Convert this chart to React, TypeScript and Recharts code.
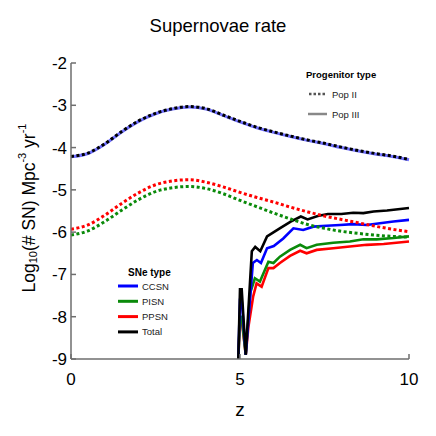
import React from 'react';
import { LineChart, Line, XAxis, YAxis } from 'recharts';

// Pop II (dotted) series on a common redshift grid
const zPop2 = [0, 0.5, 1, 1.5, 2, 2.5, 3, 3.5, 4, 4.5, 5, 5.5, 6, 6.5, 7, 7.5, 8, 8.5, 9, 9.5, 10];
const pop2Total = [-4.21, -4.13, -3.91, -3.62, -3.37, -3.19, -3.08, -3.03, -3.08, -3.23, -3.38, -3.52, -3.63, -3.73, -3.82, -3.9, -3.99, -4.07, -4.14, -4.2, -4.28];
const pop2CCSN = [-4.22, -4.14, -3.92, -3.63, -3.38, -3.2, -3.09, -3.04, -3.09, -3.24, -3.39, -3.53, -3.64, -3.74, -3.83, -3.91, -4.0, -4.08, -4.15, -4.21, -4.29];
const pop2PPSN = [-5.93, -5.83, -5.6, -5.32, -5.07, -4.88, -4.79, -4.76, -4.82, -4.93, -5.06, -5.18, -5.29, -5.41, -5.52, -5.62, -5.7, -5.78, -5.86, -5.93, -5.99];
const pop2PISN = [-6.07, -5.97, -5.75, -5.48, -5.23, -5.04, -4.95, -4.92, -4.97, -5.09, -5.25, -5.4, -5.55, -5.69, -5.82, -5.91, -5.98, -6.03, -6.07, -6.1, -6.12];

// Pop III (solid) series
const zTotal3 = [4.95, 5.0, 5.05, 5.17, 5.35, 5.45, 5.6, 5.8, 6.0, 6.2, 6.5, 6.8, 7.0, 7.3, 7.6, 8.0, 8.35, 8.65, 8.95, 9.35, 10];
const total3 = [-9.0, -7.35, -7.35, -8.9, -6.45, -6.35, -6.45, -6.1, -6.0, -5.9, -5.75, -5.63, -5.7, -5.62, -5.57, -5.57, -5.54, -5.55, -5.51, -5.49, -5.43];
const zCCSN3 = [4.95, 5.0, 5.05, 5.17, 5.38, 5.5, 5.62, 5.8, 6.0, 6.28, 6.58, 6.87, 7.17, 7.56, 7.96, 8.35, 8.75, 9.14, 9.54, 10];
const ccsn3 = [-9.0, -7.6, -7.6, -8.9, -6.73, -6.66, -6.73, -6.38, -6.33, -6.15, -5.91, -5.95, -5.87, -5.85, -5.83, -5.81, -5.83, -5.79, -5.75, -5.71];
const zPISN3 = [4.95, 5.0, 5.05, 5.17, 5.3, 5.44, 5.59, 5.84, 5.99, 6.18, 6.48, 6.78, 6.97, 7.27, 7.76, 8.25, 8.65, 9.04, 9.54, 10];
const pisn3 = [-9.0, -8.0, -8.0, -8.9, -7.44, -7.09, -7.17, -6.7, -6.73, -6.58, -6.42, -6.3, -6.38, -6.3, -6.25, -6.22, -6.17, -6.17, -6.14, -6.1];
const zPPSN3 = [4.95, 5.0, 5.05, 5.17, 5.25, 5.39, 5.49, 5.64, 5.84, 5.99, 6.18, 6.48, 6.78, 6.97, 7.27, 7.76, 8.25, 8.75, 9.25, 10];
const ppsn3 = [-9.0, -8.08, -8.08, -8.9, -8.23, -7.52, -7.21, -7.29, -6.85, -6.85, -6.73, -6.56, -6.44, -6.5, -6.42, -6.38, -6.34, -6.3, -6.28, -6.22];

const xTicks = [0, 5, 10];
const yTicks = [-9, -8, -7, -6, -5, -4, -3, -2];

const sneLegend = [
  { name: 'CCSN', color: '#0000ff' },
  { name: 'PISN', color: '#0a8a0a' },
  { name: 'PPSN', color: '#ff0000' },
  { name: 'Total', color: '#000000' },
];

const toPts = (zs: number[], ys: number[]) => zs.map((z, i) => ({ z, y: ys[i] }));

const FONT = '"Liberation Sans", Arial, sans-serif';
const FRAME = '#6e6e6e';

const YLabel = () => (
  <text
    transform="translate(29,208) rotate(-90)"
    textAnchor="middle"
    dominantBaseline="central"
    fontFamily={FONT}
    fontSize={17.5}
    fill="#000"
  >
    Log
    <tspan fontSize={11} dy={4}>10</tspan>
    <tspan dy={-4}>(# SN) Mpc</tspan>
    <tspan fontSize={11} dy={-7}>-3</tspan>
    <tspan dy={7}> yr</tspan>
    <tspan fontSize={11} dy={-7}>-1</tspan>
  </text>
);

export default function App() {
  const tickStyle = { fill: '#000', fontSize: 17, fontFamily: FONT };
  return (
    <div style={{ position: 'absolute', left: 0, top: 0, width: 436, height: 436, background: '#fff' }}>
      <LineChart width={436} height={436} margin={{ top: 63, right: 27, bottom: 0, left: 0 }}>
        <XAxis
          dataKey="z"
          type="number"
          domain={[0, 10]}
          ticks={xTicks}
          height={77}
          tickSize={-5}
          tickMargin={19}
          tick={tickStyle}
          stroke={FRAME}
          strokeWidth={1.5}
          allowDuplicatedCategory={false}
          label={{ value: 'z', position: 'insideBottom', offset: 20, fontSize: 19, fontFamily: FONT, fill: '#000' }}
        />
        <XAxis
          xAxisId="top"
          orientation="top"
          dataKey="z"
          type="number"
          domain={[0, 10]}
          ticks={xTicks}
          height={0}
          tickSize={-5}
          tickFormatter={() => ''}
          stroke={FRAME}
          strokeWidth={1.5}
          allowDuplicatedCategory={false}
        />
        <YAxis
          type="number"
          domain={[-9, -2]}
          ticks={yTicks}
          width={71}
          tickSize={-5}
          tickMargin={9}
          tick={tickStyle}
          stroke={FRAME}
          strokeWidth={1.5}
          label={<YLabel />}
        />
        <YAxis
          yAxisId="right"
          orientation="right"
          type="number"
          domain={[-9, -2]}
          ticks={yTicks}
          width={0}
          tickSize={-5}
          tickFormatter={() => ''}
          stroke={FRAME}
          strokeWidth={1.5}
        />
        <Line data={toPts(zPPSN3, ppsn3)} dataKey="y" stroke="#ff0000" strokeWidth={2.6} dot={false} isAnimationActive={false} type="linear" />
        <Line data={toPts(zPISN3, pisn3)} dataKey="y" stroke="#0a8a0a" strokeWidth={2.6} dot={false} isAnimationActive={false} type="linear" />
        <Line data={toPts(zCCSN3, ccsn3)} dataKey="y" stroke="#0000ff" strokeWidth={2.6} dot={false} isAnimationActive={false} type="linear" />
        <Line data={toPts(zTotal3, total3)} dataKey="y" stroke="#000000" strokeWidth={2.6} dot={false} isAnimationActive={false} type="linear" />
        <Line data={toPts(zPop2, pop2PISN)} dataKey="y" stroke="#0a8a0a" strokeWidth={3} strokeDasharray="3 2.5" dot={false} isAnimationActive={false} type="monotone" />
        <Line data={toPts(zPop2, pop2PPSN)} dataKey="y" stroke="#ff0000" strokeWidth={3} strokeDasharray="3 2.5" dot={false} isAnimationActive={false} type="monotone" />
        <Line data={toPts(zPop2, pop2CCSN)} dataKey="y" stroke="#7070ff" strokeWidth={3} dot={false} isAnimationActive={false} type="monotone" />
        <Line data={toPts(zPop2, pop2Total)} dataKey="y" stroke="#000000" strokeWidth={3} strokeDasharray="3 2.5" dot={false} isAnimationActive={false} type="monotone" />
      </LineChart>
      <svg width={436} height={436} style={{ position: 'absolute', left: 0, top: 0, pointerEvents: 'none' }}>
        <text x={218} y={25} textAnchor="middle" dominantBaseline="central" fontFamily={FONT} fontSize={18.5} fill="#000">
          Supernovae rate
        </text>
        <text x={306} y={74} dominantBaseline="central" fontFamily={FONT} fontSize={9.5} fontWeight="bold" fill="#000">
          Progenitor type
        </text>
        <line x1={309} x2={326} y1={94} y2={94} stroke="#555" strokeWidth={2.5} strokeDasharray="2.5 2" />
        <text x={332} y={94} dominantBaseline="central" fontFamily={FONT} fontSize={9.5} fill="#222">Pop II</text>
        <line x1={308} x2={327} y1={114} y2={114} stroke="#888" strokeWidth={2.5} />
        <text x={332} y={114} dominantBaseline="central" fontFamily={FONT} fontSize={9.5} fill="#222">Pop III</text>
        <text x={128} y={272} dominantBaseline="central" fontFamily={FONT} fontSize={10} fontWeight="bold" fill="#000">
          SNe type
        </text>
        {sneLegend.map((s, i) => (
          <g key={s.name}>
            <line x1={118} x2={138} y1={286 + i * 15.3} y2={286 + i * 15.3} stroke={s.color} strokeWidth={3} />
            <text x={142} y={286 + i * 15.3} dominantBaseline="central" fontFamily={FONT} fontSize={9.5} fill="#222">
              {s.name}
            </text>
          </g>
        ))}
      </svg>
    </div>
  );
}
